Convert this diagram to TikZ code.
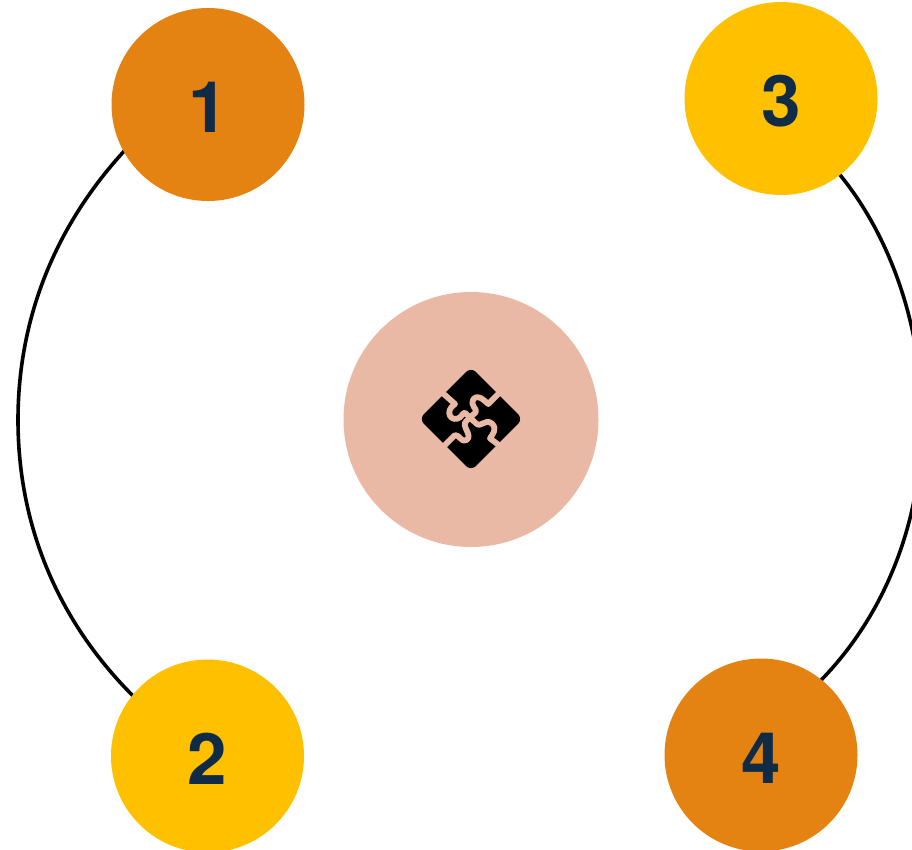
\documentclass[tikz,border=0pt]{standalone}
\usepackage{fontspec}
\setmainfont{TeX Gyre Heros}
\definecolor{orangeC}{HTML}{E48312}
\definecolor{yellowC}{HTML}{FFC000}
\definecolor{pinkC}{HTML}{EAB9A6}
\definecolor{navyC}{HTML}{0F2B46}
\tikzset{
  badge/.style={circle,minimum size=193pt,inner sep=0pt,text=navyC,text height=56pt,text depth=0pt,font=\fontsize{71}{71}\selectfont\bfseries},
  hub/.style={circle,minimum size=255pt,inner sep=0pt,fill=pinkC},
  link/.style={draw=black,line width=3.6pt},
  seam/.style={draw=pinkC,line width=5.8pt,line cap=butt,line join=round}
}
\begin{document}
\begin{tikzpicture}[x=1pt,y=-1pt]
\useasboundingbox (0,0) rectangle (912,849);
% arcs run under the circles
\coordinate (la) at (150,125);
\coordinate (lb) at (150,712);
\coordinate (ra) at (815,148);
\coordinate (rb) at (800,700);
\draw[link] (la) .. controls (60,209) and (18,312) .. (18,420) .. controls (18,528) and (60,631) .. (lb);
\draw[link] (ra) .. controls (880,209) and (922,312) .. (922,420) .. controls (922,528) and (880,631) .. (rb);
\node[badge,fill=orangeC] (n1) at (208,104.5) {1};
\node[badge,fill=yellowC] (n2) at (207.5,756) {2};
\node[badge,fill=yellowC] (n3) at (781,98.5) {3};
\node[badge,fill=orangeC] (n4) at (761,755) {4};
\node[hub] (hub) at (471,419.5) {};
\begin{scope}[shift={(410,360)},x=0.3333pt,y=-0.3333pt]
\fill[black,rounded corners=7pt] (183,21) -- (339,177) -- (183,333) -- (27,177) -- cycle;
\draw[seam] (90,92) -- (135,132) .. controls (100,155) and (125,190) .. (150,172) .. controls (160,162) and (163,152) .. (170,163) -- (198,190) .. controls (212,205) and (225,175) .. (245,190) .. controls (265,208) and (245,225) .. (240,235) -- (275,262);
\draw[seam] (275,92) -- (235,132) .. controls (222,122) and (205,100) .. (190,118) .. controls (180,140) and (203,145) .. (197,157) -- (170,182) .. controls (150,197) and (190,225) .. (170,240) .. controls (155,250) and (150,225) .. (135,225) -- (100,260);
\end{scope}
\end{tikzpicture}
\end{document}
